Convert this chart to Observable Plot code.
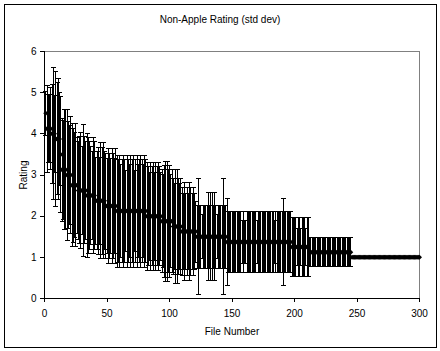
<!DOCTYPE html>
<html><head><meta charset="utf-8">
<script src="https://cdn.jsdelivr.net/npm/d3@7"></script>
<script src="https://cdn.jsdelivr.net/npm/@observablehq/plot@0.6"></script>
<style>
body{margin:0;background:#fff;}
#chart{position:absolute;left:0;top:0;}
#title{position:absolute;left:0;top:14px;width:440px;text-align:center;font:10px 'Liberation Sans',Arial,sans-serif;color:#000;}
#frame{position:absolute;left:4px;top:4px;width:433px;height:344px;border:1px solid #000;box-sizing:border-box;pointer-events:none;}
</style></head><body>
<div id="chart"></div>
<div id="title"></div>
<div id="frame"></div>
<script>
const title = "Non-Apple Rating (std dev)";
const xLabel = "File Number";
const yLabel = "Rating";
const xTicks = [0, 50, 100, 150, 200, 250, 300];
const yTicks = [0, 1, 2, 3, 4, 5, 6];

// mean rating per file (files 1..300)
const means = [
  4.5, 4.125, 4.125, 4.125, 4.125, 4, 4, 4, 3.875, 3.875,
  3.875, 3.875, 3.5, 3.125, 3.125, 3.125, 3.125, 3, 3, 3,
  3, 2.75, 2.75, 2.75, 2.75, 2.75, 2.625, 2.625, 2.625, 2.625,
  2.625, 2.625, 2.625, 2.5, 2.5, 2.5, 2.5, 2.5, 2.5, 2.5,
  2.375, 2.375, 2.375, 2.375, 2.375, 2.375, 2.375, 2.375, 2.25, 2.25,
  2.25, 2.25, 2.25, 2.25, 2.25, 2.25, 2.25, 2.125, 2.125, 2.125,
  2.125, 2.125, 2.125, 2.125, 2.125, 2.125, 2.125, 2.125, 2.125, 2.125,
  2.125, 2.125, 2.125, 2.125, 2.125, 2.125, 2.125, 2.125, 2.125, 2.125,
  2.125, 2, 2, 2, 2, 2, 2, 2, 2, 2,
  2, 2, 2, 1.875, 1.875, 1.875, 1.875, 1.875, 1.875, 1.875,
  1.875, 1.875, 1.75, 1.75, 1.75, 1.75, 1.75, 1.75, 1.75, 1.625,
  1.625, 1.625, 1.625, 1.625, 1.625, 1.625, 1.625, 1.625, 1.625, 1.625,
  1.625, 1.5, 1.5, 1.5, 1.5, 1.5, 1.5, 1.5, 1.5, 1.5,
  1.5, 1.5, 1.5, 1.5, 1.5, 1.5, 1.5, 1.5, 1.5, 1.5,
  1.5, 1.5, 1.5, 1.5, 1.5, 1.375, 1.375, 1.375, 1.375, 1.375,
  1.375, 1.375, 1.375, 1.375, 1.375, 1.375, 1.375, 1.375, 1.375, 1.375,
  1.375, 1.375, 1.375, 1.375, 1.375, 1.375, 1.375, 1.375, 1.375, 1.375,
  1.375, 1.375, 1.375, 1.375, 1.375, 1.375, 1.375, 1.375, 1.375, 1.375,
  1.375, 1.375, 1.375, 1.375, 1.375, 1.375, 1.375, 1.375, 1.375, 1.375,
  1.375, 1.375, 1.375, 1.375, 1.375, 1.375, 1.375, 1.25, 1.25, 1.25,
  1.25, 1.25, 1.25, 1.25, 1.25, 1.25, 1.25, 1.25, 1.25, 1.25,
  1.25, 1.125, 1.125, 1.125, 1.125, 1.125, 1.125, 1.125, 1.125, 1.125,
  1.125, 1.125, 1.125, 1.125, 1.125, 1.125, 1.125, 1.125, 1.125, 1.125,
  1.125, 1.125, 1.125, 1.125, 1.125, 1.125, 1.125, 1.125, 1.125, 1.125,
  1.125, 1.125, 1.125, 1.125, 1.125, 1, 1, 1, 1, 1,
  1, 1, 1, 1, 1, 1, 1, 1, 1, 1,
  1, 1, 1, 1, 1, 1, 1, 1, 1, 1,
  1, 1, 1, 1, 1, 1, 1, 1, 1, 1,
  1, 1, 1, 1, 1, 1, 1, 1, 1, 1,
  1, 1, 1, 1, 1, 1, 1, 1, 1, 1
];

// standard deviation per file (files 1..300)
const sds = [
  0.53, 1.06, 0.83, 0.83, 0.99, 1.2, 1.6, 0.93, 1.64, 1.36,
  1.46, 1.13, 1.41, 1.25, 1.2, 1.46, 1.46, 1.6, 1.31, 1.2,
  1.41, 1.49, 1.39, 1.28, 1.49, 1.16, 1.19, 1.3, 1.41, 1.06,
  1.6, 1.3, 1.19, 1.51, 1.41, 1.31, 1.2, 1.07, 1.41, 1.31,
  1.06, 1.19, 1.3, 1.06, 1.41, 1.3, 1.41, 1.19, 1.28, 1.16,
  1.39, 1.28, 1.16, 1.39, 1.28, 1.16, 1.39, 1.36, 1.25, 1.36,
  1.13, 1.25, 1.36, 1.25, 0.99, 1.36, 1.25, 1.13, 1.36, 1.25,
  1.36, 0.99, 1.25, 1.36, 1.13, 1.25, 1.36, 1.25, 1.13, 1.36,
  1.25, 1.31, 1.2, 1.07, 1.31, 1.2, 1.31, 1.07, 1.31, 1.2,
  1.31, 1.2, 1.07, 1.25, 1.13, 1.36, 1.46, 1.46, 1.25, 1.36,
  1.13, 1.25, 1.16, 1.04, 1.39, 1.39, 1.16, 1.04, 1.16, 1.06,
  0.92, 1.19, 0.92, 1.06, 0.92, 1.19, 1.06, 0.92, 1.06, 0.92,
  0.74, 0.76, 1.41, 0.76, 0.76, 0.53, 0.76, 0.76, 0.76, 0.76,
  1.07, 0.76, 1.07, 1.07, 0.76, 1.07, 0.76, 0.53, 0.76, 0.76,
  0.76, 0.76, 1.41, 0.76, 0.76, 1.06, 0.74, 0.74, 0.74, 0.74,
  0.74, 0.74, 0.74, 0.74, 0.74, 0.74, 0.74, 0.52, 0.74, 0.52,
  0.52, 0.74, 0.74, 0.74, 0.74, 0.74, 0.74, 0.74, 0.74, 0.52,
  0.74, 0.74, 0.74, 0.74, 0.74, 0.74, 0.74, 0.74, 0.74, 0.74,
  0.74, 0.74, 0.74, 0.52, 0.74, 0.74, 0.74, 0.74, 0.74, 0.74,
  1.06, 0.74, 0.74, 0.74, 0.74, 0.74, 0.74, 0.71, 0.71, 0.71,
  0.71, 0.46, 0.71, 0.71, 0.46, 0.71, 0.71, 0.71, 0.46, 0.71,
  0.71, 0.35, 0.35, 0.35, 0.35, 0.35, 0.35, 0.35, 0.35, 0.35,
  0.35, 0.35, 0.35, 0.35, 0.35, 0.35, 0.35, 0.35, 0.35, 0.35,
  0.35, 0.35, 0.35, 0.35, 0.35, 0.35, 0.35, 0.35, 0.35, 0.35,
  0.35, 0.35, 0.35, 0.35, 0.35, 0, 0, 0, 0, 0,
  0, 0, 0, 0, 0, 0, 0, 0, 0, 0,
  0, 0, 0, 0, 0, 0, 0, 0, 0, 0,
  0, 0, 0, 0, 0, 0, 0, 0, 0, 0,
  0, 0, 0, 0, 0, 0, 0, 0, 0, 0,
  0, 0, 0, 0, 0, 0, 0, 0, 0, 0
];

const fileNumbers = means.map((_, i) => i + 1);
const rows = fileNumbers.map((f, i) => ({file: f, mean: means[i], sd: sds[i]}));
const bars = rows.filter(d => d.sd > 0);

const capSymbol = {draw(ctx, size) { const r = Math.sqrt(size / Math.PI); ctx.moveTo(-r, 0); ctx.lineTo(r, 0); }};
const diamondSymbol = {draw(ctx, size) { const r = Math.sqrt(size / Math.PI); ctx.moveTo(0, -r); ctx.lineTo(r, 0); ctx.lineTo(0, r); ctx.lineTo(-r, 0); ctx.closePath(); }};

document.getElementById("title").textContent = title;

const chart = Plot.plot({
  width: 440,
  height: 351,
  marginLeft: 44,
  marginRight: 21,
  marginTop: 51,
  marginBottom: 53,
  style: {fontFamily: "'Liberation Sans', Arial, sans-serif", fontSize: "10px", color: "#000", background: "transparent", overflow: "visible"},
  x: {domain: [0, 300]},
  y: {domain: [0, 6]},
  marks: [
    Plot.ruleY([6], {stroke: "#808080", shapeRendering: "crispEdges"}),
    Plot.ruleX([300], {stroke: "#808080", shapeRendering: "crispEdges"}),
    Plot.ruleX(bars, {x: "file", y1: d => d.mean - d.sd, y2: d => d.mean + d.sd, stroke: "#000", strokeWidth: 1, shapeRendering: "crispEdges"}),
    Plot.dot(bars, {x: "file", y: d => d.mean + d.sd, symbol: capSymbol, r: 2.5, fill: "none", stroke: "#000", strokeWidth: 1, shapeRendering: "crispEdges"}),
    Plot.dot(bars, {x: "file", y: d => d.mean - d.sd, symbol: capSymbol, r: 2.5, fill: "none", stroke: "#000", strokeWidth: 1, shapeRendering: "crispEdges"}),
    Plot.dot(rows, {x: "file", y: "mean", symbol: diamondSymbol, r: 2.5, fill: "#000", stroke: "none"}),
    Plot.ruleX([0], {stroke: "#000", shapeRendering: "crispEdges"}),
    Plot.ruleY([0], {stroke: "#000", shapeRendering: "crispEdges"}),
    Plot.axisX({ticks: xTicks, tickSize: 4, tickPadding: 7, tickFormat: d => String(d), label: xLabel, labelAnchor: "center", labelArrow: "none", labelOffset: 36, shapeRendering: "crispEdges"}),
    Plot.axisY({ticks: yTicks, tickSize: 4, tickPadding: 4, tickFormat: d => String(d), label: yLabel, labelAnchor: "center", labelArrow: "none", labelOffset: 25, shapeRendering: "crispEdges"})
  ]
});
document.getElementById("chart").appendChild(chart);
</script>
</body></html>
